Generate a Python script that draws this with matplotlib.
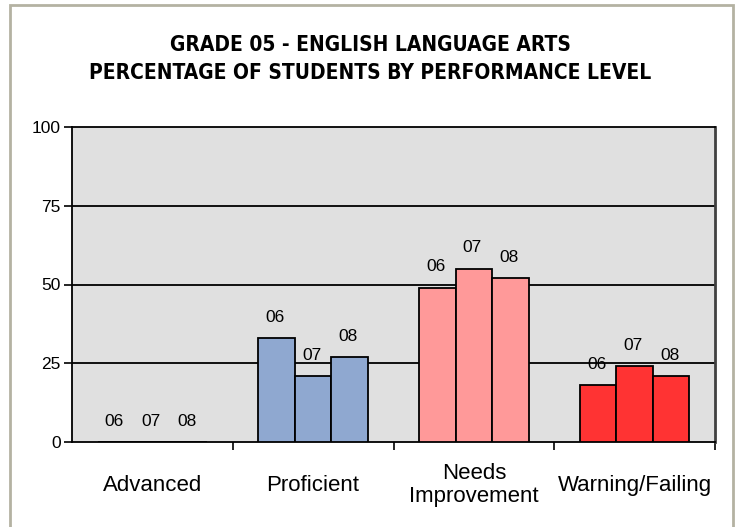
"""
Grade 05 ELA - percentage of students by performance level, three years
"""
import numpy as np
import matplotlib.pyplot as plt
from matplotlib.patches import Rectangle

# data
levels = ['Advanced', 'Proficient', 'Needs\nImprovement', 'Warning/Failing']
years = ['06', '07', '08']
pct_06 = [0, 33, 49, 18]
pct_07 = [0, 21, 55, 24]
pct_08 = [0, 27, 52, 21]
level_colors = ['#8FA8D0', '#8FA8D0', '#FF9999', '#FF3333']
yticks = [0, 25, 50, 75, 100]

series = [pct_06, pct_07, pct_08]

plt.rcParams['font.family'] = ['Liberation Sans', 'DejaVu Sans']

fig = plt.figure(figsize=(7.38, 5.27), dpi=100)
fig.patch.set_facecolor('white')

# outer frame like the original screenshot
fig.patches.append(Rectangle((10 / 738, -0.05), 723 / 738, 1.04,
                             transform=fig.transFigure, fill=False,
                             edgecolor='#B4B2A2', lw=2))

ax = fig.add_axes([72 / 738, 1 - 442 / 527, 643 / 738, 315 / 527])
ax.set_facecolor('#E0E0E0')

x = np.arange(len(levels))
w = 0.227
for k, vals in enumerate(series):
    xs = x + (k - 1) * w
    ax.bar(xs, vals, width=w, color=level_colors, edgecolor='black',
           linewidth=1.3, zorder=3)
    for xi, v in zip(xs, vals):
        ax.annotate(years[k], (xi, v), xytext=(-1, 15), textcoords='offset points',
                    ha='center', va='center', fontsize=12.5, zorder=4)

ax.set_xlim(-0.5, 3.5)
ax.set_ylim(0, 100)
ax.set_yticks(yticks)
ax.tick_params(axis='y', labelsize=12.5, length=6, width=1.2, direction='out', pad=2)
for yv in yticks[1:-1]:
    ax.axhline(yv, color='black', lw=1.3, zorder=1)

ax.set_xticks(x)
ax.set_xticklabels(levels, fontsize=16)
ax.tick_params(axis='x', length=0, pad=31)
for lab in ax.get_xticklabels():
    lab.set_va('center')
    lab.set_multialignment('center')
    lab.set_linespacing(1.15)
ax.set_xticks(np.arange(0.5, 3.6, 1.0), minor=True)
ax.tick_params(axis='x', which='minor', length=6, width=1.2, direction='out')

for s in ['left', 'bottom', 'top']:
    ax.spines[s].set_color('black')
    ax.spines[s].set_linewidth(1.3)
ax.spines['right'].set_color('#404040')
ax.spines['right'].set_linewidth(2)

title_font = dict(ha='center', va='center', fontsize=15, fontweight='bold',
                  family='DejaVu Sans', fontstretch='condensed')
fig.text(0.502, 1 - 45 / 527, 'GRADE 05 - ENGLISH LANGUAGE ARTS', **title_font)
fig.text(0.502, 1 - 73 / 527, 'PERCENTAGE OF STUDENTS BY PERFORMANCE LEVEL', **title_font)

plt.savefig('out.png', dpi=100)
